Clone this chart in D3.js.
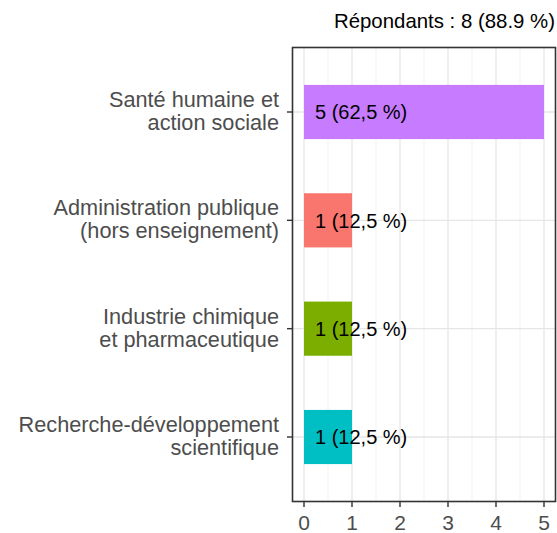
<!DOCTYPE html>
<html>
<head>
<meta charset="utf-8">
<script src="https://cdn.jsdelivr.net/npm/d3@7"></script>
<style>
  body { margin: 0; background: #fff; }
  svg { display: block; font-family: "Liberation Sans", Arial, sans-serif; }
</style>
</head>
<body>
<div id="chart"></div>
<script>
// data
var categories = [
  ["Santé humaine et", "action sociale"],
  ["Administration publique", "(hors enseignement)"],
  ["Industrie chimique", "et pharmaceutique"],
  ["Recherche-développement", "scientifique"]
];
var counts = [5, 1, 1, 1];
var shares = ["62,5", "12,5", "12,5", "12,5"];
var barColors = ["#C77CFF", "#F8766D", "#7CAE00", "#00BFC4"];
var xTicks = [0, 1, 2, 3, 4, 5];
var title = "Répondants : 8 (88.9 %)";

var width = 557, height = 533;
var panel = {left: 292, right: 556, top: 47, bottom: 502};

var svg = d3.select("#chart").append("svg")
  .attr("width", width).attr("height", height);

var x = d3.scaleLinear().domain([-0.25, 5.25]).range([panel.left, panel.right]);
var keys = categories.map(function(d, i) { return i; });
var y = d3.scalePoint().domain(keys).range([panel.top, panel.bottom]).padding(0.6);
var barH = y.step() * 0.5;

var g = svg.append("g");

// panel background
g.append("rect")
  .attr("x", panel.left).attr("y", panel.top)
  .attr("width", panel.right - panel.left).attr("height", panel.bottom - panel.top)
  .attr("fill", "#fff");

// minor grid
var minor = d3.range(0.5, 5, 1);
g.selectAll(".minor").data(minor).enter().append("line")
  .attr("x1", function(d) { return x(d); }).attr("x2", function(d) { return x(d); })
  .attr("y1", panel.top).attr("y2", panel.bottom)
  .style("stroke", "#ebebeb").style("stroke-width", 0.7);

// major grid
g.selectAll(".majx").data(xTicks).enter().append("line")
  .attr("x1", function(d) { return x(d); }).attr("x2", function(d) { return x(d); })
  .attr("y1", panel.top).attr("y2", panel.bottom)
  .style("stroke", "#e6e6e6").style("stroke-width", 1.3);
g.selectAll(".majy").data(keys).enter().append("line")
  .attr("x1", panel.left).attr("x2", panel.right)
  .attr("y1", function(d) { return y(d); }).attr("y2", function(d) { return y(d); })
  .style("stroke", "#e6e6e6").style("stroke-width", 1.3);

// bars
g.selectAll(".bar").data(keys).enter().append("rect")
  .attr("x", x(0))
  .attr("y", function(d) { return y(d) - barH / 2; })
  .attr("width", function(d) { return x(counts[d]) - x(0); })
  .attr("height", barH)
  .style("fill", function(d) { return barColors[d]; });

// bar labels
g.selectAll(".lab").data(keys).enter().append("text")
  .attr("x", x(0) + 11)
  .attr("y", function(d) { return y(d); })
  .attr("dy", "0.36em")
  .style("font-size", "20px")
  .style("fill", "#000")
  .text(function(d) { return counts[d] + " (" + shares[d] + " %)"; });

// border
g.append("rect")
  .attr("x", panel.left + 0.5).attr("y", panel.top + 0.5)
  .attr("width", panel.right - panel.left - 1).attr("height", panel.bottom - panel.top - 1)
  .attr("fill", "none").style("stroke", "#333").style("stroke-width", 1.6);

// x axis ticks + labels
g.selectAll(".xt").data(xTicks).enter().append("line")
  .attr("x1", function(d) { return x(d); }).attr("x2", function(d) { return x(d); })
  .attr("y1", panel.bottom).attr("y2", panel.bottom + 5)
  .style("stroke", "#333").style("stroke-width", 1.4);
g.selectAll(".xl").data(xTicks).enter().append("text")
  .attr("x", function(d) { return x(d); })
  .attr("y", 530)
  .attr("text-anchor", "middle")
  .style("font-size", "21px").style("fill", "#4d4d4d")
  .text(function(d) { return d; });

// y axis ticks + labels (one text per line)
g.selectAll(".yt").data(keys).enter().append("line")
  .attr("x1", panel.left - 5).attr("x2", panel.left)
  .attr("y1", function(d) { return y(d); }).attr("y2", function(d) { return y(d); })
  .style("stroke", "#333").style("stroke-width", 1.4);
keys.forEach(function(d) {
  var lines = categories[d];
  lines.forEach(function(s, i) {
    g.append("text")
      .attr("text-anchor", "end")
      .attr("x", panel.left - 13)
      .attr("y", y(d) + (i - (lines.length - 1) / 2) * 23 + 6.5)
      .style("font-size", "21.7px").style("fill", "#4d4d4d")
      .text(s);
  });
});

// title
svg.append("text")
  .attr("x", 555).attr("y", 28)
  .attr("text-anchor", "end")
  .style("font-size", "20.4px").style("fill", "#000")
  .text(title);
</script>
</body>
</html>
